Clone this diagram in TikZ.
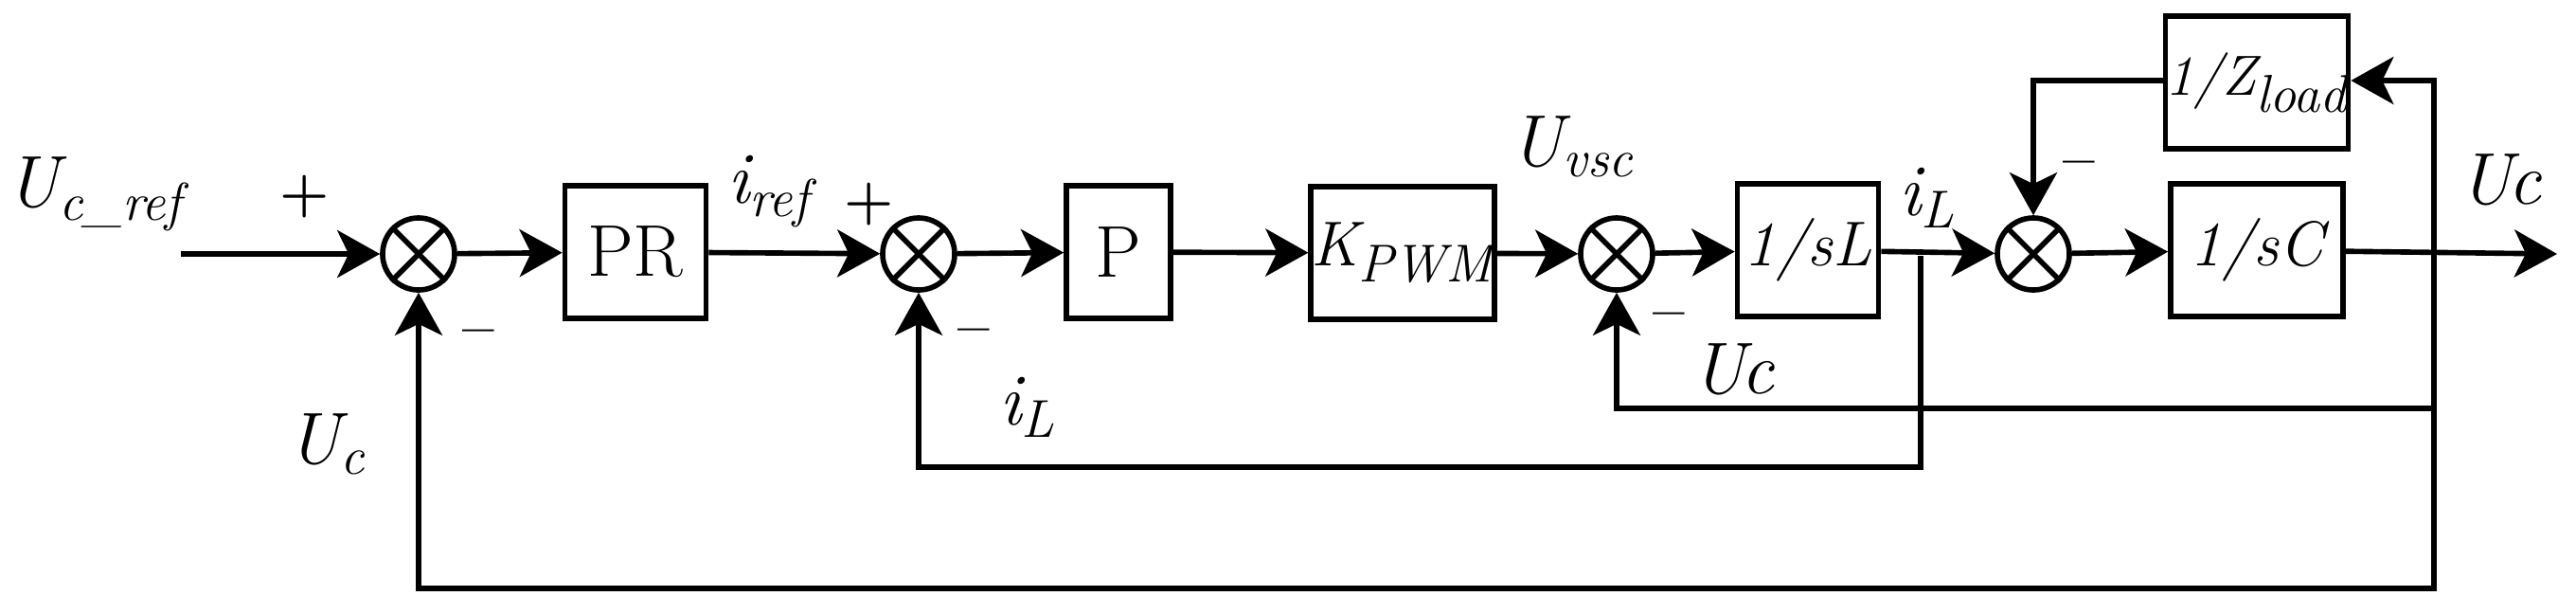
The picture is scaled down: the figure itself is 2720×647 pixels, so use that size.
\documentclass[tikz,border=0pt]{standalone}
\usetikzlibrary{shapes.geometric,arrows.meta}
\tikzset{
  blk/.style={draw,line width=1.6pt,minimum width=#1,minimum height=1.4cm,inner sep=0pt,font=\rmfamily\fontsize{22}{22}\selectfont},
  blk/.default=1.5cm,
  sum/.style={draw,circle,line width=1.6pt,minimum size=0.76cm,inner sep=0pt},
  sig/.style={line width=1.6pt,-{Stealth[length=0.45cm,width=0.5cm,inset=0.12cm]}},
  wire/.style={line width=1.6pt},
  lbl/.style={font=\rmfamily\fontsize{22}{22}\selectfont\itshape,inner sep=0pt},
  sgn/.style={font=\rmfamily\bfseries\fontsize{17}{17}\selectfont,inner sep=0pt}
}
\newcommand{\sub}[1]{\textsubscript{\fontsize{16}{16}\selectfont\itshape #1}}
\begin{document}
\begin{tikzpicture}[x=0.01cm,y=-0.01cm]
  \useasboundingbox (0,0) rectangle (2720,647);
  % blocks
  \node[blk=1.49cm] (pr) at (671,266) {PR};
  \node[blk=1.1cm] (p) at (1181,266) {P};
  \node[blk=1.82cm,font=\rmfamily\fontsize{19}{19}\selectfont] (kpwm) at (1481,267) {\itshape K\sub{PWM}};
  \node[blk=1.49cm,font=\rmfamily\fontsize{19}{19}\selectfont\itshape] (sl) at (1909,264) {1/sL};
  \node[blk=1.82cm,font=\rmfamily\fontsize{19}{19}\selectfont\itshape] (sc) at (2383,264) {1/sC};
  \node[blk=1.82cm,font=\rmfamily\fontsize{17}{17}\selectfont\itshape] (zl) at (2383,87) {1/Z\sub{load}};
  % summing junctions
  \foreach \n/\x in {s1/442,s2/970,s3/1707,s4/2147} {
    \node[sum] (\n) at (\x,268) {};
    \draw[wire] (\n.north west) -- (\n.south east) (\n.north east) -- (\n.south west);
  }
  % helper points
  \coordinate (in) at (191,268);
  \coordinate (out) at (2700,268);
  \coordinate (tapl) at (2028,270);
  \coordinate (tapc) at (2570,270);
  % forward path
  \draw[sig] (in) -- (s1);
  \draw[sig] (s1) -- (pr);
  \draw[sig] (pr) -- (s2);
  \draw[sig] (s2) -- (p);
  \draw[sig] (p) -- (kpwm);
  \draw[sig] (kpwm) -- (s3);
  \draw[sig] (s3) -- (sl);
  \draw[sig] (sl) -- (s4);
  \draw[sig] (s4) -- (sc);
  \draw[sig] (sc) -- (out);
  % load branch
  \draw[sig] (tapc) |- (zl.east |- 0,85);
  \draw[sig] (zl.west |- 0,85) -| (s4);
  % feedback
  \draw[sig] (tapc) -- (2570,431) -| (s3);
  \draw[sig] (tapl) -- (2028,493) -| (s2);
  \draw[sig] (tapc) -- (2570,621) -| (s1);
  % labels
  \node[lbl] (uref) at (100,205) {U\sub{c\_ref}};
  \node[sgn] (p1) at (322,208) {+};
  \node[sgn] (m1) at (505,357) {--};
  \node[lbl] (uc1) at (345,469) {U\sub{c}};
  \node[lbl] (iref) at (812,202) {i\sub{ref}};
  \node[sgn] (p2) at (918,216) {+};
  \node[sgn] (m2) at (1028,356) {--};
  \node[lbl] (il1) at (1085,430) {i\sub{L}};
  \node[lbl] (uvsc) at (1660,155) {U\sub{vsc}};
  \node[sgn] (m3) at (1762,339) {--};
  \node[lbl] (uc2) at (1830,390) {Uc};
  \node[lbl] (il2) at (2035,209) {i\sub{L}};
  \node[sgn] (m4) at (2195,179) {--};
  \node[lbl] (uc3) at (2640,190) {Uc};
\end{tikzpicture}
\end{document}
